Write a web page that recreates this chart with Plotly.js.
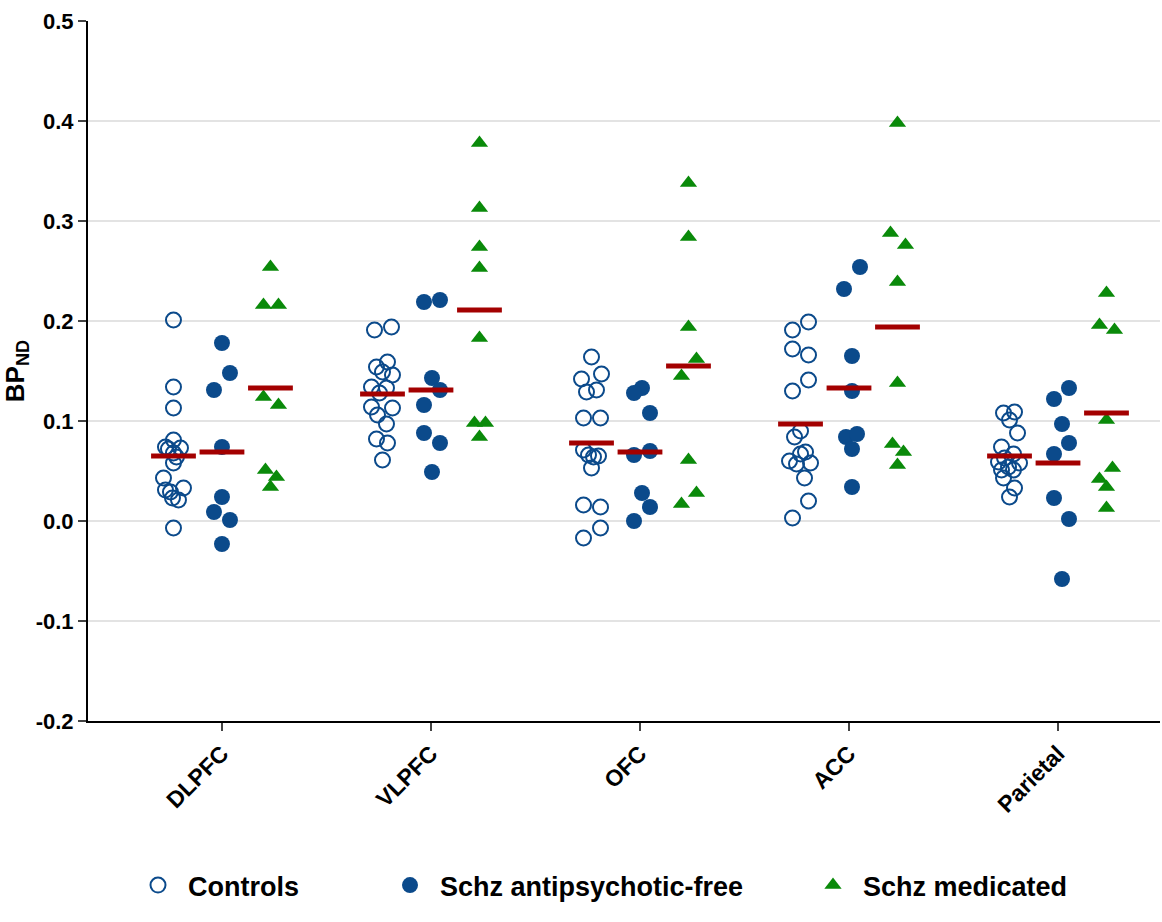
<!DOCTYPE html>
<html>
<head>
<meta charset="utf-8">
<script src="https://cdn.plot.ly/plotly-3.0.1.min.js"></script>
<style>body{margin:0;background:#fff}</style>
</head>
<body>
<div id="chart" style="width:1162px;height:922px"></div>
<script>
var regions = ['DLPFC', 'VLPFC', 'OFC', 'ACC', 'Parietal'];
var yTicks = [-0.2, -0.1, 0, 0.1, 0.2, 0.3, 0.4, 0.5];
var yTickText = ['-0.2', '-0.1', '0.0', '0.1', '0.2', '0.3', '0.4', '0.5'];

// values per region
var controls = [
    [0.201,0.134,0.113,0.081,0.074,0.073,0.072,0.068,0.064,0.058,0.043,0.033,0.031,0.029,0.023,0.021,-0.007],
    [0.191,0.194,0.159,0.154,0.149,0.146,0.134,0.133,0.128,0.114,0.113,0.106,0.097,0.082,0.078,0.061],
    [0.164,0.147,0.142,0.129,0.131,0.103,0.103,0.071,0.066,0.065,0.064,0.053,0.016,0.014,-0.007,-0.017],
    [0.199,0.191,0.172,0.166,0.141,0.130,0.090,0.084,0.069,0.067,0.060,0.057,0.058,0.043,0.020,0.003],
    [0.108,0.109,0.101,0.088,0.074,0.059,0.067,0.063,0.058,0.054,0.051,0.051,0.043,0.033,0.024]
];
var controlsJit = [
    [0,0,0,0,-8,7,-5,0,3,0,-10,10,-8,-3,-1,5,0],
    [-8,9,5,-6,0,10,-11,4,-3,-11,10,-5,4,-6,5,0],
    [0,10,-10,-5,5,-8,9,-8,-3,7,2,0,-8,9,9,-8],
    [8,-8,-8,8,8,-8,0,-6,5,0,-11,-4,10,4,8,-8],
    [-6,5,0,8,-8,-11,4,-5,10,-1,-8,4,-6,5,0]
];
var free = [
    [0.178,0.148,0.131,0.074,0.024,0.009,0.001,-0.023],
    [0.219,0.221,0.143,0.131,0.116,0.088,0.078,0.049],
    [0.133,0.128,0.108,0.066,0.070,0.028,0.014,0.000],
    [0.254,0.232,0.165,0.130,0.084,0.087,0.072,0.034],
    [0.133,0.122,0.097,0.078,0.067,0.023,0.002,-0.058]
];
var freeJit = [
    [0,8,-8,0,0,-8,8,0],
    [-7,9,1,9,-7,-7,9,1],
    [2,-6,10,-6,10,2,10,-6],
    [11,-5,3,3,-3,8,3,3],
    [11,-4,4,11,-4,-4,11,4]
];
var medicated = [
    [0.254,0.216,0.216,0.124,0.116,0.051,0.044,0.034],
    [0.378,0.313,0.274,0.253,0.183,0.098,0.098,0.084],
    [0.338,0.284,0.194,0.162,0.145,0.061,0.028,0.017],
    [0.398,0.288,0.276,0.239,0.138,0.077,0.069,0.056],
    [0.228,0.196,0.191,0.101,0.053,0.042,0.034,0.013]
];
var medJit = [
    [0,-7,8,-7,8,-5,6,0],
    [0,0,0,0,0,-5,6,0],
    [0,0,0,8,-7,0,8,-7],
    [0,-7,8,0,0,-5,6,0],
    [0,-7,8,0,6,-7,0,0]
];
var meanControls = [0.065, 0.127, 0.078, 0.097, 0.065];
var meanFree = [0.069, 0.131, 0.069, 0.133, 0.058];
var meanMed = [0.133, 0.211, 0.155, 0.194, 0.108];

var SPACING = 209; // px per category, used to turn jitter px into axis units
var OFF = 0.232;

function buildXY(vals, jit, off)
{
    var x = [];
    var y = [];
    for (var i = 0; i < vals.length; i++)
    {
        for (var j = 0; j < vals[i].length; j++)
        {
            x.push(i + off + jit[i][j] / SPACING);
            y.push(vals[i][j]);
        }
    }
    return {x: x, y: y};
}

var blue = '#0b4a8b';
var green = '#0a8a0a';
var c = buildXY(controls, controlsJit, -OFF);
var f = buildXY(free, freeJit, 0);
var m = buildXY(medicated, medJit, OFF);

var mx = [], my = [];
for (var i = 0; i < regions.length; i++)
{
    mx.push(i - OFF, i, i + OFF);
    my.push(meanControls[i], meanFree[i], meanMed[i]);
}

var traces = [
    {x: c.x, y: c.y, mode: 'markers', type: 'scatter', name: 'Controls', legend: 'legend',
     marker: {symbol: 'circle-open', size: 15, color: blue, line: {width: 2, color: blue}}},
    {x: f.x, y: f.y, mode: 'markers', type: 'scatter', name: 'Schz antipsychotic-free', legend: 'legend2',
     marker: {symbol: 'circle', size: 16, color: blue}},
    {x: m.x, y: m.y, mode: 'markers', type: 'scatter', name: 'Schz medicated', legend: 'legend3',
     marker: {symbol: 'triangle-up', size: 15, color: green}},
    {x: mx, y: my, mode: 'markers', type: 'scatter', showlegend: false,
     marker: {symbol: 'line-ew', size: 32, line: {width: 5, color: '#a30000'}}}
];

var legFont = {size: 27, family: 'Liberation Sans, Arial, sans-serif', weight: 'bold', color: '#000'};
function leg(px)
{
    return {orientation: 'h', x: (px - 88) / 1072, xanchor: 'left', y: -0.235, yanchor: 'middle',
            font: legFont, bgcolor: 'rgba(0,0,0,0)', itemwidth: 50};
}

var layout = {
    width: 1162, height: 922,
    margin: {l: 88, r: 2, t: 21, b: 201},
    paper_bgcolor: '#fff', plot_bgcolor: '#fff',
    font: {family: 'Liberation Sans, Arial, sans-serif', color: '#000'},
    showlegend: true,
    legend: leg(128),
    legend2: leg(380),
    legend3: leg(803),
    xaxis: {range: [-0.641, 4.488], tickvals: [0,1,2,3,4], ticktext: regions,
            tickangle: -45, showgrid: false, zeroline: false, showline: true,
            linecolor: '#000', linewidth: 2, ticks: 'outside', ticklen: 8, tickwidth: 2,
            tickfont: {size: 23, weight: 'bold'}},
    yaxis: {range: [-0.2, 0.5], tickvals: yTicks, ticktext: yTickText, showgrid: true,
            gridcolor: '#e3e3e3', gridwidth: 1.5, zeroline: false, showline: true,
            linecolor: '#000', linewidth: 2, ticks: 'outside', ticklen: 8, tickwidth: 2,
            tickfont: {size: 22, weight: 'bold'},
            title: {text: 'BP<sub>ND</sub>', font: {size: 26, weight: 'bold'}, standoff: 12}}
};

Plotly.newPlot('chart', traces, layout, {displayModeBar: false, staticPlot: true});
</script>
</body>
</html>
